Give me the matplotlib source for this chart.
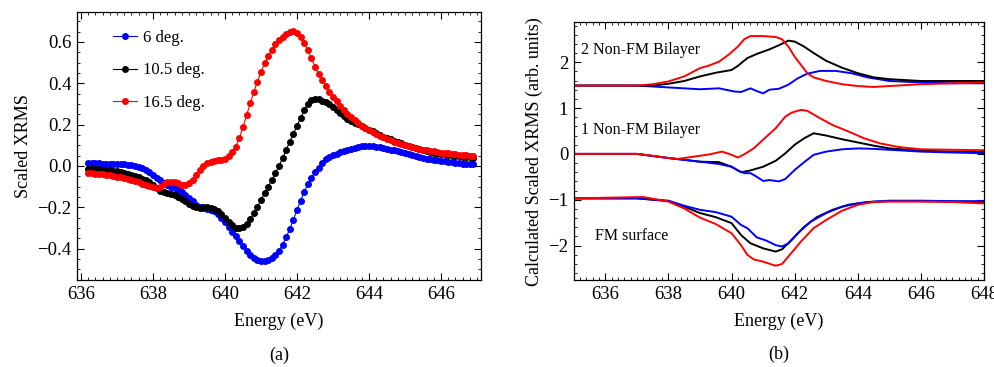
import numpy as np
import matplotlib
matplotlib.use("Agg")
import matplotlib.pyplot as plt
from matplotlib.ticker import MultipleLocator, FuncFormatter

plt.rcParams['font.family'] = ['Liberation Serif', 'DejaVu Serif']
plt.rcParams['font.size'] = 13

# ---------------- (a) measured XRMS, energy grid 636.2 ... 646.9 eV ----------------
energy_meas = np.round(636.2 + 0.1 * np.arange(108), 2)

xrms_6deg = [
    0.013, 0.013, 0.012, 0.012, 0.011, 0.011, 0.010, 0.010,
    0.009, 0.008, 0.007, 0.005, 0.003, 0.000, -0.004, -0.010, -0.018, -0.028,
    -0.042, -0.056, -0.070, -0.082, -0.092, -0.100, -0.108, -0.116, -0.126, -0.140,
    -0.155, -0.172, -0.188, -0.200, -0.206, -0.210, -0.214, -0.220, -0.232, -0.250,
    -0.272, -0.296, -0.318, -0.340, -0.362, -0.388, -0.410, -0.430, -0.447, -0.456,
    -0.460, -0.460, -0.455, -0.445, -0.430, -0.410, -0.382, -0.345, -0.305, -0.260,
    -0.212, -0.168, -0.125, -0.088, -0.057, -0.030, -0.008, 0.015, 0.032, 0.043,
    0.052, 0.059, 0.066, 0.072, 0.078, 0.084, 0.089, 0.093, 0.096, 0.098,
    0.097, 0.095, 0.093, 0.090, 0.086, 0.082, 0.079, 0.075, 0.072, 0.067,
    0.062, 0.057, 0.052, 0.048, 0.045, 0.040, 0.035, 0.032, 0.030, 0.027,
    0.025, 0.022, 0.020, 0.018, 0.016, 0.013, 0.011, 0.010, 0.008, 0.007,
]

xrms_10p5deg = [
    -0.016, -0.016, -0.017, -0.017, -0.018, -0.019, -0.021, -0.023,
    -0.026, -0.029, -0.033, -0.038, -0.043, -0.048, -0.054, -0.061, -0.069, -0.080,
    -0.094, -0.108, -0.120, -0.128, -0.133, -0.138, -0.143, -0.150, -0.160, -0.172,
    -0.184, -0.194, -0.200, -0.202, -0.201, -0.200, -0.203, -0.210, -0.220, -0.232,
    -0.250, -0.270, -0.288, -0.298, -0.300, -0.295, -0.282, -0.258, -0.230, -0.198,
    -0.165, -0.132, -0.100, -0.068, -0.035, 0.000, 0.037, 0.078, 0.118, 0.156,
    0.194, 0.232, 0.270, 0.300, 0.318, 0.325, 0.322, 0.316, 0.308, 0.298,
    0.287, 0.272, 0.258, 0.243, 0.228, 0.217, 0.209, 0.201, 0.193, 0.184,
    0.176, 0.167, 0.158, 0.150, 0.142, 0.135, 0.128, 0.121, 0.115, 0.109,
    0.103, 0.097, 0.092, 0.087, 0.082, 0.077, 0.073, 0.069, 0.065, 0.062,
    0.059, 0.056, 0.053, 0.051, 0.049, 0.047, 0.045, 0.043, 0.041, 0.039,
]

xrms_16p5deg = [
    -0.035, -0.036, -0.037, -0.039, -0.041, -0.043, -0.046, -0.049,
    -0.052, -0.055, -0.059, -0.063, -0.068, -0.074, -0.080, -0.086, -0.092, -0.098,
    -0.104, -0.106, -0.100, -0.088, -0.080, -0.078, -0.080, -0.085, -0.090, -0.092,
    -0.085, -0.068, -0.045, -0.020, 0.000, 0.012, 0.020, 0.026, 0.028, 0.029,
    0.035, 0.048, 0.066, 0.094, 0.135, 0.190, 0.245, 0.303, 0.358, 0.408,
    0.455, 0.497, 0.532, 0.561, 0.588, 0.610, 0.626, 0.637, 0.646, 0.652,
    0.645, 0.626, 0.596, 0.561, 0.520, 0.480, 0.446, 0.416, 0.388, 0.360,
    0.335, 0.312, 0.290, 0.270, 0.252, 0.236, 0.221, 0.206, 0.193, 0.182,
    0.172, 0.163, 0.154, 0.146, 0.138, 0.131, 0.124, 0.118, 0.112, 0.106,
    0.101, 0.096, 0.091, 0.087, 0.083, 0.079, 0.076, 0.073, 0.070, 0.067,
    0.065, 0.063, 0.061, 0.059, 0.057, 0.055, 0.053, 0.052, 0.050, 0.049,
]

meas_labels = ["6 deg.", "10.5 deg.", "16.5 deg."]
meas_colors = ["#0000ff", "#000000", "#ff0000"]

# ---------------- (b) calculated XRMS ----------------
# 2 Non-FM bilayer (offset group at top)
e_top_red = [635, 637, 637.5, 638, 638.5, 639, 639.3, 639.6, 639.9, 640.2, 640.4, 640.6, 641,
             641.4, 641.6, 641.8, 642.0, 642.2, 642.4, 642.6, 643.0, 643.5, 644, 644.5, 645,
             646, 647, 648]
v_top_red = [1.49, 1.49, 1.52, 1.58, 1.69, 1.87, 1.93, 2.01, 2.16, 2.34, 2.50, 2.57, 2.57,
             2.55, 2.50, 2.34, 2.12, 1.94, 1.76, 1.67, 1.59, 1.52, 1.48, 1.46, 1.48,
             1.52, 1.54, 1.56]
e_top_black = [635, 637.5, 638, 638.5, 639, 639.5, 640, 640.2, 640.5, 640.8, 641.2, 641.5,
               641.8, 642, 642.3, 642.6, 643, 643.5, 644, 644.5, 645, 646, 647, 648]
v_top_black = [1.49, 1.49, 1.53, 1.59, 1.69, 1.77, 1.83, 1.92, 2.09, 2.18, 2.28, 2.37,
               2.47, 2.45, 2.34, 2.20, 2.03, 1.88, 1.76, 1.67, 1.63, 1.59, 1.59, 1.59]
e_top_blue = [635, 637, 638, 639, 639.6, 640.1, 640.3, 640.6, 640.8, 641.0, 641.2, 641.5,
              641.8, 642.1, 642.4, 642.8, 643.3, 643.8, 644.3, 645, 646, 647, 648]
v_top_blue = [1.49, 1.49, 1.45, 1.41, 1.43, 1.36, 1.35, 1.43, 1.37, 1.32, 1.40, 1.42,
              1.51, 1.65, 1.75, 1.81, 1.81, 1.76, 1.67, 1.59, 1.56, 1.54, 1.54]

# 1 Non-FM bilayer (middle group)
e_mid_red = [635, 637, 637.5, 638, 638.3, 638.8, 639.3, 639.7, 640.0, 640.2, 640.4, 640.7,
             641.0, 641.4, 641.7, 641.9, 642.2, 642.4, 642.8, 643.2, 643.7, 644.2, 644.7,
             645.3, 646, 647, 648]
v_mid_red = [0.0, 0.0, -0.04, -0.09, -0.11, -0.06, -0.01, 0.05, -0.02, -0.08, -0.01, 0.12,
             0.31, 0.56, 0.81, 0.90, 0.96, 0.94, 0.78, 0.63, 0.49, 0.34, 0.23,
             0.15, 0.10, 0.09, 0.08]
e_mid_black = [635, 637, 638, 639, 639.6, 640.0, 640.3, 640.6, 641.0, 641.4, 641.7, 642.0,
               642.3, 642.6, 643.0, 643.5, 644, 644.5, 645, 646, 647, 648]
v_mid_black = [0.0, 0.0, -0.09, -0.17, -0.18, -0.28, -0.40, -0.36, -0.28, -0.15, 0.01, 0.20,
               0.34, 0.45, 0.40, 0.32, 0.25, 0.18, 0.12, 0.07, 0.05, 0.04]
e_mid_blue = [635, 637, 638, 639, 639.6, 640.0, 640.2, 640.4, 640.6, 640.8, 641.0, 641.2,
              641.5, 641.7, 642.0, 642.3, 642.6, 643.0, 643.5, 644.0, 644.5, 645, 646, 647, 648]
v_mid_blue = [0.0, 0.0, -0.09, -0.17, -0.22, -0.28, -0.36, -0.42, -0.42, -0.50, -0.59, -0.57,
              -0.60, -0.55, -0.35, -0.18, -0.02, 0.05, 0.10, 0.12, 0.11, 0.09, 0.05, 0.03, 0.015]

# FM surface (bottom group)
e_bot_red = [635, 637.2, 638, 638.5, 639.0, 639.5, 640.0, 640.3, 640.5, 640.7, 641.0, 641.4,
             641.6, 641.8, 642.2, 642.6, 643.0, 643.5, 644.0, 644.5, 645, 646, 647, 648]
v_bot_red = [-0.97, -0.94, -1.04, -1.19, -1.39, -1.53, -1.73, -1.99, -2.20, -2.30, -2.35, -2.44,
             -2.40, -2.24, -1.91, -1.62, -1.44, -1.24, -1.11, -1.05, -1.04, -1.04, -1.05, -1.08]
e_bot_black = [635, 637, 638, 638.5, 639.0, 639.5, 640.0, 640.3, 640.6, 641.0, 641.4, 641.6,
               641.9, 642.3, 642.7, 643.2, 643.7, 644.3, 645, 646, 647, 648]
v_bot_black = [-0.97, -0.97, -1.03, -1.15, -1.29, -1.38, -1.51, -1.77, -1.95, -2.06, -2.13,
               -2.08, -1.88, -1.59, -1.38, -1.22, -1.11, -1.05, -1.03, -1.03, -1.04, -1.05]
e_bot_blue = [635, 637, 638, 638.5, 639, 639.5, 640.0, 640.3, 640.5, 640.8, 641.1, 641.4,
              641.6, 641.8, 642.1, 642.5, 643, 643.5, 644, 644.5, 645, 646, 647, 648]
v_bot_blue = [-0.97, -0.97, -1.02, -1.13, -1.22, -1.27, -1.37, -1.55, -1.62, -1.82, -1.89,
              -1.99, -2.02, -1.95, -1.73, -1.48, -1.29, -1.15, -1.08, -1.04, -1.02, -1.02,
              -1.03, -1.03]

calc_curves = [
    (e_top_blue, v_top_blue, "#0000ff"), (e_top_black, v_top_black, "#000000"),
    (e_top_red, v_top_red, "#ff0000"),
    (e_mid_black, v_mid_black, "#000000"), (e_mid_blue, v_mid_blue, "#0000ff"),
    (e_mid_red, v_mid_red, "#ff0000"),
    (e_bot_black, v_bot_black, "#000000"), (e_bot_blue, v_bot_blue, "#0000ff"),
    (e_bot_red, v_bot_red, "#ff0000"),
]

group_labels = ["2 Non-FM Bilayer", "1 Non-FM Bilayer", "FM surface"]

# ---------------- figure ----------------
fig = plt.figure(figsize=(9.94, 3.67), dpi=100)
ax1 = fig.add_axes([0.0775, 0.2371, 0.4064, 0.7302])
ax2 = fig.add_axes([0.5772, 0.2371, 0.4128, 0.7021])


def style_axis(ax):
    ax.tick_params(which='both', direction='in', top=True, right=True, labelsize=13.5)
    ax.tick_params(which='major', length=5, width=0.8, pad=4)
    ax.tick_params(which='minor', length=2.5, width=0.6)
    for s in ax.spines.values():
        s.set_linewidth(0.9)


# panel (a)
series = [xrms_6deg, xrms_10p5deg, xrms_16p5deg]
for vals, lab, col in zip(series, meas_labels, meas_colors):
    ax1.plot(energy_meas, vals, '-', color=col, lw=0.8, marker='o', ms=4.0,
             mec=col, mfc=col, label=lab)
ax1.set_xlim(635.89, 647.11)
ax1.set_ylim(-0.552, 0.745)
ax1.xaxis.set_major_locator(MultipleLocator(2))
ax1.xaxis.set_minor_locator(MultipleLocator(0.2))
ax1.yaxis.set_major_locator(MultipleLocator(0.2))
ax1.yaxis.set_minor_locator(MultipleLocator(0.05))
ax1.yaxis.set_major_formatter(FuncFormatter(
    lambda v, p: f"{v:.1f}".replace("-", "\u2212")))
style_axis(ax1)
ax1.set_xlabel("Energy (eV)", fontsize=13, labelpad=7)
ax1.set_ylabel("Scaled XRMS", fontsize=13, labelpad=4)
ax1.legend(loc='upper left', bbox_to_anchor=(0.052, 0.99), frameon=False, fontsize=12,
           handlelength=1.45, handletextpad=0.36, labelspacing=1.0)
ax1.text(0.5, -0.28, "(a)", transform=ax1.transAxes, ha='center', va='center', fontsize=13)

# panel (b)
for e, v, col in calc_curves:
    ax2.plot(e, v, '-', color=col, lw=1.4)
ax2.set_xlim(635, 648)
ax2.set_ylim(-2.75, 2.87)
ax2.xaxis.set_major_locator(MultipleLocator(2))
ax2.xaxis.set_minor_locator(MultipleLocator(0.2))
ax2.yaxis.set_major_locator(MultipleLocator(1))
ax2.yaxis.set_minor_locator(MultipleLocator(0.2))
ax2.yaxis.set_major_formatter(FuncFormatter(
    lambda v, p: f"{v:.0f}".replace("-", "\u2212")))
style_axis(ax2)
ax2.set_xlabel("Energy (eV)", fontsize=13, labelpad=7)
ax2.set_ylabel("Calculated Scaled XRMS (arb. units)", fontsize=13, labelpad=4)
ax2.text(635.22, 2.27, group_labels[0], ha='left', va='center', fontsize=11.5)
ax2.text(635.22, 0.52, group_labels[1], ha='left', va='center', fontsize=11.5)
ax2.text(635.67, -1.8, group_labels[2], ha='left', va='center', fontsize=11.5)
ax2.text(0.5, -0.29, "(b)", transform=ax2.transAxes, ha='center', va='center', fontsize=13)

fig.savefig("out.png", dpi=100)
